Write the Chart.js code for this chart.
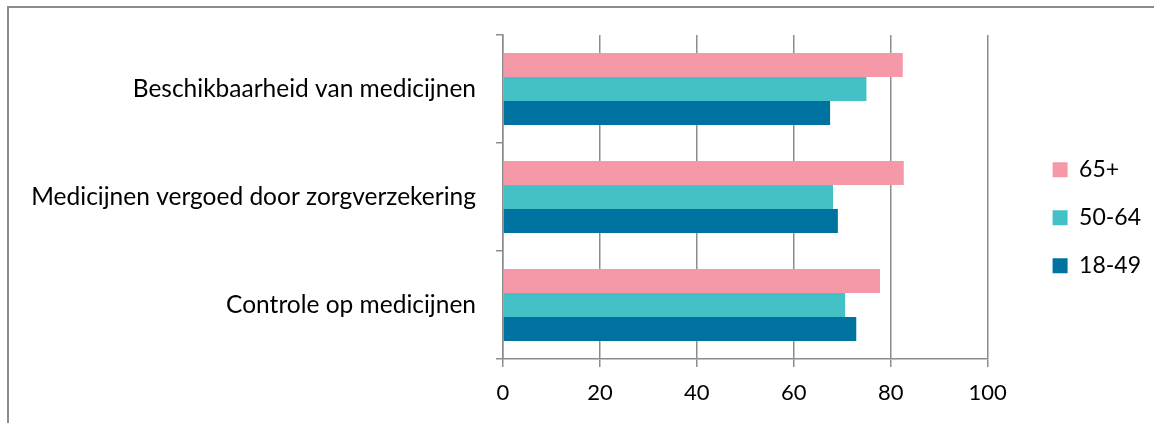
<!DOCTYPE html>
<html>
<head>
<meta charset="utf-8">
<script src="https://cdn.jsdelivr.net/npm/chart.js@4.4.1/dist/chart.umd.min.js"></script>
<style>
  html, body { margin: 0; padding: 0; background: #fff; }
  #wrap { position: relative; width: 1154px; height: 423px; overflow: hidden; }
  #frame { position: absolute; left: 7px; top: 6px; width: 1300px; height: 600px;
           border-left: 2px solid #8c8c8c; border-top: 2px solid #8c8c8c; }
  canvas { position: absolute; left: 0; top: 0; }
</style>
</head>
<body>
<div id="wrap">
  <div id="frame"></div>
  <canvas id="chart" width="1154" height="423"></canvas>
</div>
<script>
// Data
const categories = ['Beschikbaarheid van medicijnen', 'Medicijnen vergoed door zorgverzekering', 'Controle op medicijnen'];
const seriesNames = ['65+', '50-64', '18-49'];
const values65plus = [82.5, 82.7, 77.8];
const values50to64 = [75.0, 68.1, 70.6];
const values18to49 = [67.5, 69.1, 72.9];
const xTickValues = [0, 20, 40, 60, 80, 100];

const colors = {
  pink: '#F599A8',
  teal: '#43C1C7',
  blue: '#0072A0',
  grid: '#8c8c8c',
  text: '#000000'
};

const fontFamily = "Lato, 'Open Sans', sans-serif";

new Chart(document.getElementById('chart'), {
  type: 'bar',
  data: {
    labels: categories,
    datasets: [
      { label: seriesNames[0], data: values65plus, backgroundColor: colors.pink },
      { label: seriesNames[1], data: values50to64, backgroundColor: colors.teal },
      { label: seriesNames[2], data: values18to49, backgroundColor: colors.blue }
    ].map(ds => Object.assign(ds, { barPercentage: 1.0, categoryPercentage: 0.667 }))
  },
  options: {
    indexAxis: 'y',
    responsive: false,
    animation: false,
    devicePixelRatio: 1,
    layout: { padding: { top: 35, bottom: 4, left: 0, right: 3 } },
    plugins: {
      legend: {
        position: 'right',
        align: 'center',
        fullSize: false,
        // empty title only pushes the items down a little
        title: { display: true, text: ' ', font: { size: 12 }, padding: { top: 13.6, bottom: 13.6 } },
        labels: {
          boxWidth: 15,
          boxHeight: 15,
          padding: 25,
          color: colors.text,
          font: { family: fontFamily, size: 23 }
        }
      },
      tooltip: { enabled: false }
    },
    scales: {
      x: {
        min: 0,
        max: 100,
        afterBuildTicks: s => { s.ticks = xTickValues.map(v => ({ value: v })); },
        grid: { color: colors.grid, lineWidth: 1.5, tickLength: 8 },
        border: { display: true, color: colors.grid, width: 1.5 },
        ticks: { color: colors.text, padding: 12.8, font: { family: fontFamily, size: 22 } }
      },
      y: {
        offset: true,
        grid: { offset: true, drawOnChartArea: false, drawTicks: true, tickLength: 7, color: colors.grid, lineWidth: 1.5 },
        border: { display: true, color: colors.grid, width: 1.5 },
        ticks: { color: colors.text, padding: 20, font: { family: fontFamily, size: 24.5 } },
        afterFit: s => { s.width = 503; }
      },
      gap: {
        type: 'linear',
        position: 'right',
        display: true,
        ticks: { display: false },
        grid: { display: false },
        border: { display: false },
        afterFit: s => { s.width = 40; }
      }
    }
  }
});
</script>
</body>
</html>
